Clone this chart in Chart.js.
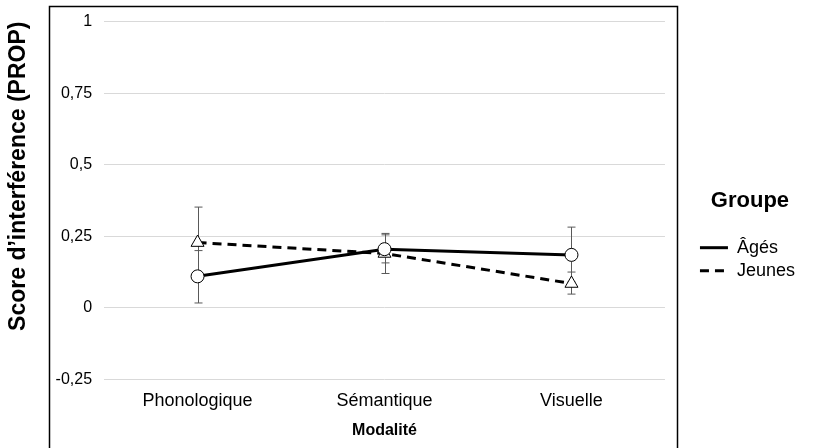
<!DOCTYPE html>
<html>
<head>
<meta charset="utf-8">
<script src="https://cdn.jsdelivr.net/npm/chart.js@4"></script>
<style>
  html, body { margin: 0; padding: 0; background: #fff; }
  #wrap { width: 834px; height: 448px; }
</style>
</head>
<body>
<div id="wrap"><canvas id="interfChart"></canvas></div>
<script>
var CATEGORIES = ['Phonologique', 'Sémantique', 'Visuelle'];
var AGES_MEAN = [0.11, 0.205, 0.185];
var AGES_LOW = [0.017, 0.157, 0.09];
var AGES_HIGH = [0.2, 0.255, 0.282];
var JEUNES_MEAN = [0.228, 0.19, 0.085];
var JEUNES_LOW = [0.11, 0.12, 0.048];
var JEUNES_HIGH = [0.352, 0.26, 0.125];
var Y_TICKS = [-0.25, 0, 0.25, 0.5, 0.75, 1];

Chart.defaults.font.family = "'Liberation Sans', Arial, sans-serif";
Chart.defaults.color = '#000';

// white page + the frame round the plot
var framePlugin = {
  id: 'frame',
  beforeDraw: function (chart) {
    var ctx = chart.ctx;
    ctx.save();
    ctx.fillStyle = '#fff';
    ctx.fillRect(0, 0, chart.width, chart.height);
    ctx.strokeStyle = '#000';
    ctx.lineWidth = 1.5;
    ctx.strokeRect(49.5, 6.5, 628, 480);
    ctx.restore();
  }
};

// vertical error bars, drawn under the markers
var errorBarPlugin = {
  id: 'errorBars',
  beforeDatasetsDraw: function (chart) {
    var ctx = chart.ctx;
    var yScale = chart.scales.y;
    ctx.save();
    ctx.strokeStyle = '#595959';
    ctx.lineWidth = 1;
    chart.data.datasets.forEach(function (ds, i) {
      var meta = chart.getDatasetMeta(i);
      meta.data.forEach(function (pt, j) {
        var x = Math.round(pt.x) + 0.5;
        var yLo = yScale.getPixelForValue(ds.errLow[j]);
        var yHi = yScale.getPixelForValue(ds.errHigh[j]);
        ctx.beginPath();
        ctx.moveTo(x, yLo);
        ctx.lineTo(x, yHi);
        ctx.moveTo(x - 4, yLo);
        ctx.lineTo(x + 4, yLo);
        ctx.moveTo(x - 4, yHi);
        ctx.lineTo(x + 4, yHi);
        ctx.stroke();
      });
    });
    ctx.restore();
  }
};

// legend samples: thick line, dashed for the dashed series
function legendLabels(chart) {
  var items = Chart.defaults.plugins.legend.labels.generateLabels(chart);
  items.forEach(function (it) {
    var ds = chart.data.datasets[it.datasetIndex];
    it.lineWidth = ds.borderWidth;
    it.lineDash = ds.borderDash || [];
    it.strokeStyle = '#000';
    it.pointStyle = 'line';
  });
  return items;
}

var CHART_CONFIG = {
  type: 'line',
  data: {
    labels: CATEGORIES,
    datasets: [
      {
        label: 'Âgés', data: AGES_MEAN, errLow: AGES_LOW, errHigh: AGES_HIGH,
        borderColor: '#000', backgroundColor: '#fff', borderWidth: 3,
        pointStyle: 'circle', pointRadius: 6.5, pointBorderWidth: 1,
        pointBackgroundColor: '#fff', pointBorderColor: '#000', tension: 0
      },
      {
        label: 'Jeunes', data: JEUNES_MEAN, errLow: JEUNES_LOW, errHigh: JEUNES_HIGH,
        borderColor: '#000', backgroundColor: '#fff', borderWidth: 3, borderDash: [9, 6],
        pointStyle: 'triangle', pointRadius: 7.5, pointBorderWidth: 1,
        pointBackgroundColor: '#fff', pointBorderColor: '#000', tension: 0
      }
    ]
  },
  options: {
    responsive: true,
    maintainAspectRatio: false,
    animation: false,
    layout: { padding: { top: 12, left: 5, right: 29, bottom: 9 } },
    plugins: {
      tooltip: { enabled: false },
      legend: {
        position: 'right',
        title: {
          display: true, text: 'Groupe', position: 'center',
          font: { size: 22, weight: 'bold' }, padding: { top: 24, bottom: 17 }
        },
        labels: {
          usePointStyle: true, pointStyle: 'line', pointStyleWidth: 28,
          boxHeight: 18, padding: 5, font: { size: 18 }, color: '#000',
          generateLabels: legendLabels
        }
      }
    },
    scales: {
      x: {
        offset: true,
        grid: { display: false, drawTicks: false },
        border: { display: false },
        ticks: { font: { size: 18 }, padding: 11 },
        title: {
          display: true, text: 'Modalité',
          font: { size: 16, weight: 'bold', lineHeight: 1 }, padding: { top: 0, bottom: 0 }
        }
      },
      y: {
        min: -0.25, max: 1,
        afterBuildTicks: function (s) { s.ticks = Y_TICKS.map(function (v) { return { value: v }; }); },
        grid: { color: '#d9d9d9', drawTicks: false },
        border: { display: false },
        ticks: {
          font: { size: 16 }, padding: 12,
          callback: function (v) { return String(v).replace('.', ','); }
        },
        title: {
          display: true, text: 'Score d\u2019interférence (PROP)', align: 'end',
          font: { size: 23, weight: 'bold' }, padding: { top: 0, bottom: 11 }
        }
      },
      gap: {
        position: 'right', display: true,
        grid: { display: false }, border: { display: false }, ticks: { display: false },
        afterFit: function (s) { s.width = 30; }
      }
    }
  },
  plugins: [framePlugin, errorBarPlugin]
};

var CHART = new Chart(document.getElementById('interfChart'), CHART_CONFIG);
</script>
</body>
</html>
